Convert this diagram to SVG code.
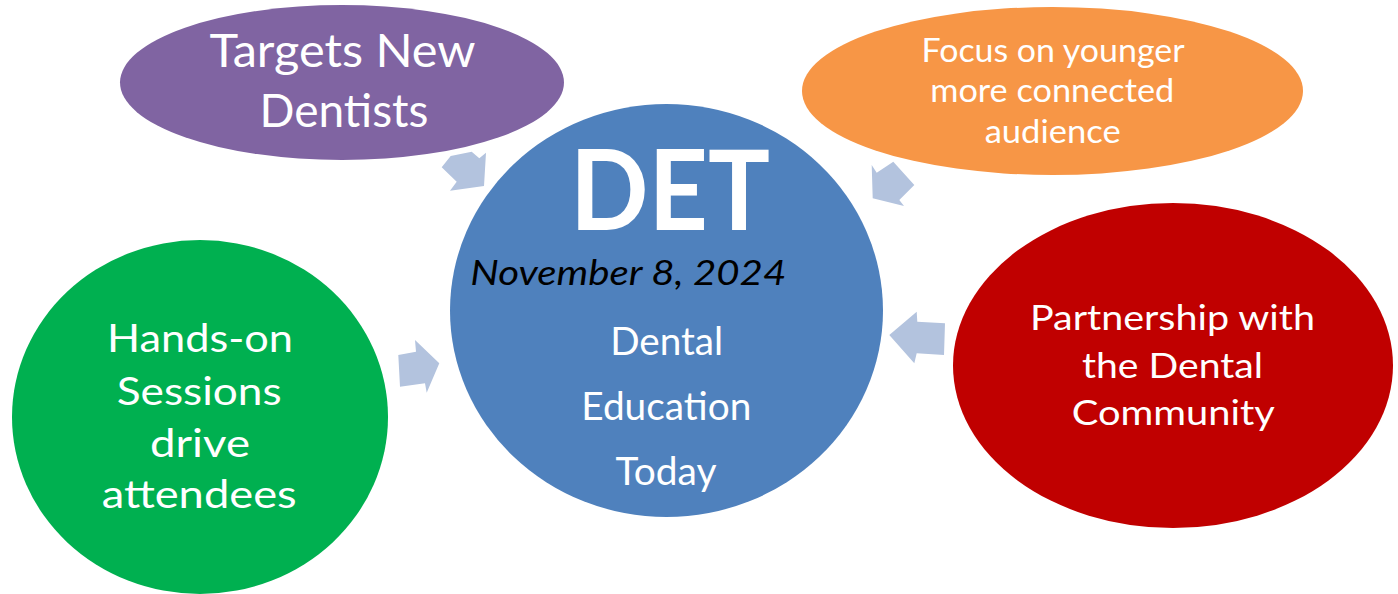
<svg xmlns="http://www.w3.org/2000/svg" width="1398" height="594" viewBox="0 0 1398 594">
  <style>
    .lbl { font-family: Lato, "Open Sans", "Liberation Sans", sans-serif; fill: #FFFFFF; text-anchor: middle; }
    .arrow { fill: #B3C3DE; stroke: none; }
  </style>
  <rect x="0" y="0" width="1398" height="594" fill="#FFFFFF"/>
  <g id="connectors">
    <polygon class="arrow" points="441.7,167.3 450.7,156 471.7,151.7 479.3,158.3 486,152.7 484,186 450,190.7 456.7,181.7"/>
    <polygon class="arrow" points="871.7,165 876.7,172.7 893.3,161.7 914.3,185 899.3,200 904,206 872.7,198.3"/>
    <polygon class="arrow" points="889.3,335 916.7,311.7 917.3,321.7 945,323.3 944,355 916.7,353.3 914.3,363.3"/>
    <polygon class="arrow" points="398.3,355 416,351.7 415,340 439.3,363.3 426.7,392.7 425,383.3 400,386.7"/>
  </g>
  <g id="node-purple">
    <ellipse cx="342" cy="82.5" rx="222" ry="77.5" fill="#8064A2"/>
    <text class="lbl" x="342.5" y="66.7" font-size="46.5" textLength="266" lengthAdjust="spacingAndGlyphs">Targets New</text>
    <text class="lbl" x="344" y="126.7" font-size="46.5" textLength="169" lengthAdjust="spacingAndGlyphs">Dentists</text>
  </g>
  <g id="node-orange">
    <ellipse cx="1052.5" cy="91" rx="250.5" ry="84" fill="#F79646"/>
    <text class="lbl" x="1053" y="61.7" font-size="32" textLength="263" lengthAdjust="spacingAndGlyphs">Focus on younger</text>
    <text class="lbl" x="1052.2" y="101.7" font-size="32" textLength="244" lengthAdjust="spacingAndGlyphs">more connected</text>
    <text class="lbl" x="1052.7" y="143.3" font-size="32" textLength="136" lengthAdjust="spacingAndGlyphs">audience</text>
  </g>
  <g id="node-green">
    <ellipse cx="200" cy="417" rx="188" ry="177" fill="#00B050"/>
    <text class="lbl" x="200" y="351.7" font-size="37.7" textLength="186" lengthAdjust="spacingAndGlyphs">Hands-on</text>
    <text class="lbl" x="199.2" y="405" font-size="37.7" textLength="165" lengthAdjust="spacingAndGlyphs">Sessions</text>
    <text class="lbl" x="200" y="456.7" font-size="37.7" textLength="100" lengthAdjust="spacingAndGlyphs">drive</text>
    <text class="lbl" x="199.2" y="508.3" font-size="37.7" textLength="195" lengthAdjust="spacingAndGlyphs">attendees</text>
  </g>
  <g id="node-red">
    <ellipse cx="1173" cy="365.5" rx="220" ry="162.5" fill="#C00000"/>
    <text class="lbl" x="1172.5" y="330" font-size="35" textLength="285" lengthAdjust="spacingAndGlyphs">Partnership with</text>
    <text class="lbl" x="1172.5" y="378.3" font-size="35" textLength="181" lengthAdjust="spacingAndGlyphs">the Dental</text>
    <text class="lbl" x="1173.3" y="425" font-size="35" textLength="203" lengthAdjust="spacingAndGlyphs">Community</text>
  </g>
  <g id="node-center">
    <ellipse cx="666.5" cy="310.5" rx="216.5" ry="206.5" fill="#4F81BD"/>
    <text class="lbl" x="670" y="230" font-size="112" font-weight="bold" textLength="200" lengthAdjust="spacingAndGlyphs">DET</text>
    <text class="lbl" x="628.3" y="285" font-size="35" font-style="italic" style="fill:#000000" textLength="316" lengthAdjust="spacingAndGlyphs">November 8, 2024</text>
    <text class="lbl" x="666.7" y="355" font-size="37.7" textLength="113" lengthAdjust="spacingAndGlyphs">Dental</text>
    <text class="lbl" x="666.3" y="420" font-size="37.7" textLength="170" lengthAdjust="spacingAndGlyphs">Education</text>
    <text class="lbl" x="666" y="485" font-size="37.7" textLength="101" lengthAdjust="spacingAndGlyphs">Today</text>
  </g>
</svg>
